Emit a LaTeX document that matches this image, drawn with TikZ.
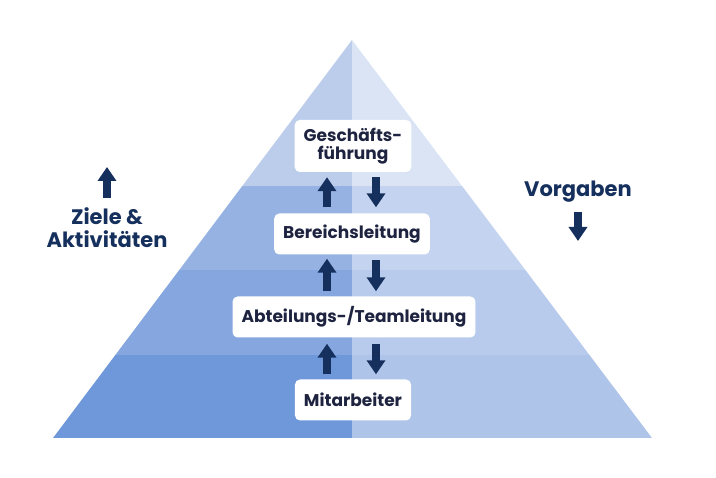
\documentclass[tikz,border=0pt]{standalone}
\usepackage{fontspec}
\setmainfont{Poppins}
\usetikzlibrary{arrows.meta}
\definecolor{navy}{HTML}{16305E}
\definecolor{ink}{HTML}{1E2340}
\definecolor{lA}{HTML}{BCCDEC}
\definecolor{rA}{HTML}{DBE4F5}
\definecolor{lB}{HTML}{96B2E3}
\definecolor{rB}{HTML}{C4D4F0}
\definecolor{lC}{HTML}{85A6DE}
\definecolor{rC}{HTML}{B8CBEC}
\definecolor{lD}{HTML}{6F98DA}
\definecolor{rD}{HTML}{AFC4E9}
\tikzset{
  box/.style={fill=white, rounded corners=5pt, text=ink, inner xsep=9pt, inner ysep=3pt, minimum height=41pt, align=center, font=\bfseries\fontsize{17}{18}\selectfont},
  side/.style={text=navy, align=center, font=\bfseries\fontsize{21}{23}\selectfont},
  arr/.style={draw=navy, line width=8pt, -{Triangle[width=18pt,length=14pt]}},
}
\begin{document}
\begin{tikzpicture}[x=1pt,y=-1pt]
  \useasboundingbox (0,0) rectangle (716,478);
  \coordinate (apex) at (352,40);
  \coordinate (bl) at (53,438);
  \coordinate (br) at (652,438);
  \begin{scope}
    \clip (apex) -- (br) -- (bl) -- cycle;
    \foreach \ya/\yb/\cl/\cr in {40/186.5/lA/rA, 186/270.5/lB/rB, 270/355.5/lC/rC, 355/438/lD/rD} {
      \fill[\cl] (53,\ya) rectangle (352.5,\yb);
      \fill[\cr] (352,\ya) rectangle (652,\yb);
    }
  \end{scope}
  \node[box, minimum height=52pt] (gf) at (353,146) {Geschäfts-\\führung};
  \node[box] (bl2) at (352,234) {Bereichsleitung};
  \node[box] (at) at (354,317) {Abteilungs-/Teamleitung};
  \node[box] (ma) at (353,400) {Mitarbeiter};
  \coordinate (up) at (327,0);
  \coordinate (dn) at (376,0);
  \draw[arr, shorten <=6pt, shorten >=5pt] (up |- bl2.north) -- (up |- gf.south);
  \draw[arr, shorten <=5pt, shorten >=6pt] (dn |- gf.south) -- (dn |- bl2.north);
  \draw[arr, shorten <=5pt, shorten >=4pt] (up |- at.north) -- (up |- bl2.south);
  \draw[arr, shorten <=5pt, shorten >=5pt] (dn |- bl2.south) -- (dn |- at.north);
  \draw[arr, shorten <=5pt, shorten >=6pt] (up |- ma.north) -- (up |- at.south);
  \draw[arr, shorten <=6pt, shorten >=5pt] (dn |- at.south) -- (dn |- ma.north);
  \node[side] (ziele) at (107,228) {Ziele \&\\Aktivitäten};
  \coordinate (zt) at (107,167);
  \draw[arr, shorten <=6pt] (ziele.north) -- (zt);
  \node[side] (vorg) at (578,192) {Vorgaben};
  \coordinate (vt) at (578,241);
  \draw[arr, shorten <=6pt] (vorg.south) -- (vt);
\end{tikzpicture}
\end{document}
